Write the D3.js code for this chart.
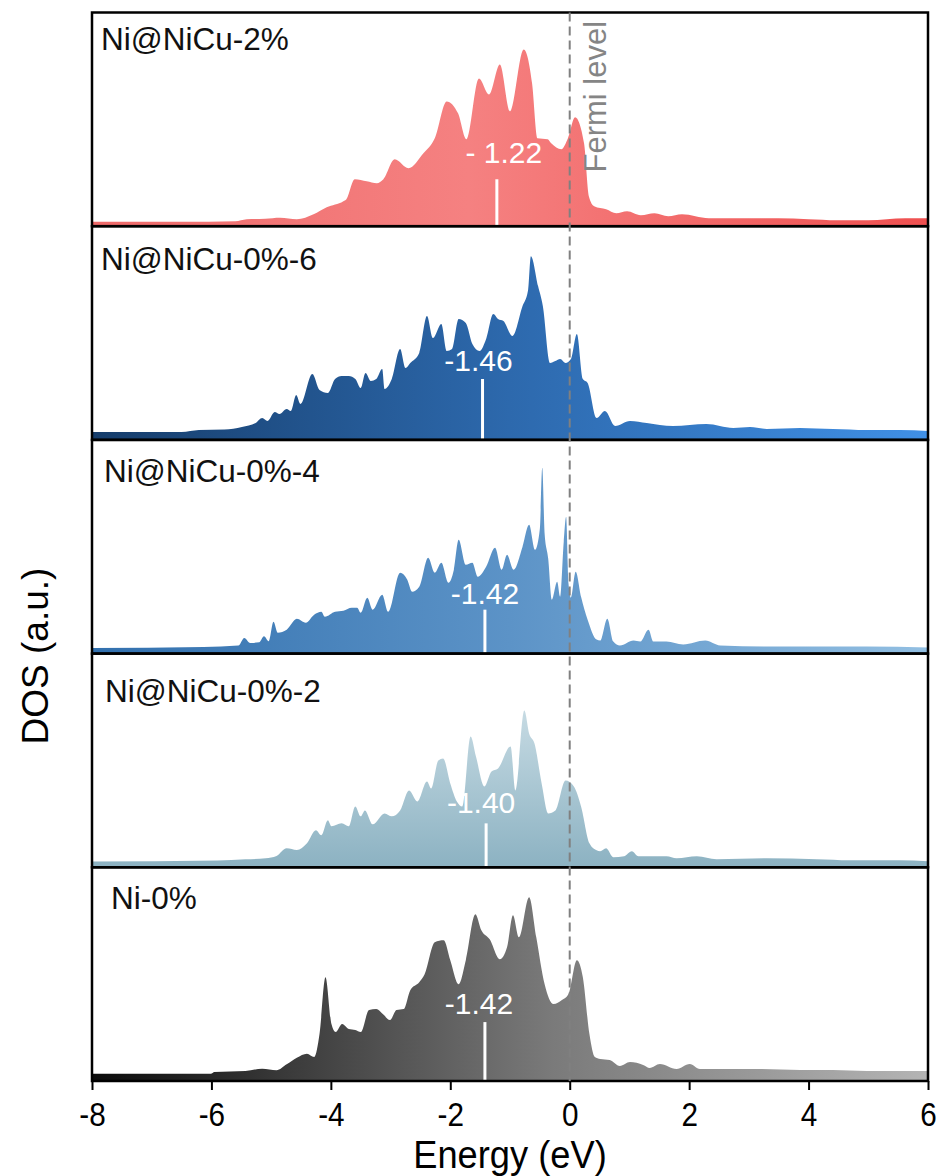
<!DOCTYPE html>
<html>
<head>
<meta charset="utf-8">
<script src="https://cdn.jsdelivr.net/npm/d3@7"></script>
<style>
  body { margin: 0; background: #fff; }
  svg { display: block; font-family: Arial, "Liberation Sans", sans-serif; }
</style>
</head>
<body>
<div id="chart"></div>
<script>
// energy ticks (eV)
const xTicks = [-8, -6, -4, -2, 0, 2, 4, 6];

// panels, top to bottom
const panelNames = ["Ni@NiCu-2%", "Ni@NiCu-0%-6", "Ni@NiCu-0%-4", "Ni@NiCu-0%-2", "Ni-0%"];

// d-band centres (eV) and the text shown for them
const dCenters = [-1.22, -1.46, -1.42, -1.40, -1.42];
const dLabels = ["- 1.22", "-1.46", "-1.42", "-1.40", "-1.42"];

// DOS curves, [energy (eV), DOS (a.u.)]
const dosNi2 = [[-8,4.5],[-6.5,4.5],[-5.6,5],[-5.41,7],[-5.1,7.5],[-4.85,8.5],[-4.57,7],[-4.29,12],[-4.07,19],[-3.79,25],[-3.74,27],[-3.6,47],[-3.4,45],[-3.23,43],[-3.12,47],[-2.93,67],[-2.7,58],[-2.45,73],[-2.26,88],[-2.06,125],[-1.87,113],[-1.73,87],[-1.52,148],[-1.35,132],[-1.17,162],[-1.0,115],[-0.77,177],[-0.63,143],[-0.54,88],[-0.37,87],[-0.31,83],[-0.14,77],[-0.03,88],[0.09,109],[0.24,83],[0.32,30],[0.41,20],[0.61,17],[0.78,13],[0.96,15],[1.19,11],[1.42,13],[1.65,10],[1.88,12],[2.33,8],[2.9,8],[3.49,8],[4.0,7],[4.47,6],[5.0,6],[5.62,8],[6.0,8]];

const dosNi06 = [[-8,8],[-6.5,8],[-6.21,10],[-5.78,10.5],[-5.49,13],[-5.26,17],[-5.15,22],[-5.06,19],[-4.94,28],[-4.86,26],[-4.74,31],[-4.67,29],[-4.58,45],[-4.51,36],[-4.31,66],[-4.19,50],[-4.05,47],[-3.93,61],[-3.82,64],[-3.7,64],[-3.59,61],[-3.5,52],[-3.42,67],[-3.33,59],[-3.24,61],[-3.14,71],[-3.1,51],[-2.98,61],[-2.84,91],[-2.75,72],[-2.67,77],[-2.52,87],[-2.39,124],[-2.29,102],[-2.15,116],[-2.06,89],[-1.97,91],[-1.86,121],[-1.74,117],[-1.63,96],[-1.51,89],[-1.4,101],[-1.28,126],[-1.2,121],[-1.11,119],[-0.96,104],[-0.79,134],[-0.7,149],[-0.65,184],[-0.53,154],[-0.45,134],[-0.33,77],[-0.24,79],[-0.16,81],[-0.07,77],[0.02,81],[0.12,106],[0.22,61],[0.3,57],[0.45,22],[0.59,29],[0.76,14],[1.01,19],[1.29,17],[1.73,14],[2.29,16],[2.74,12],[3.02,13],[3.3,11],[3.86,12],[4.41,11],[4.97,10],[5.53,10],[6.0,9]];

const dosNi04 = [[-8,5.7],[-6.13,6.7],[-5.55,8],[-5.45,15.7],[-5.35,10.7],[-5.2,11.3],[-5.12,17.3],[-5.04,12.3],[-4.96,32],[-4.89,21],[-4.74,24],[-4.57,35],[-4.42,31],[-4.28,39],[-4.16,42],[-4.1,37],[-3.93,42],[-3.79,43],[-3.65,46],[-3.56,46],[-3.5,41],[-3.39,56],[-3.3,44],[-3.14,59],[-3.04,42],[-2.84,81],[-2.72,74],[-2.64,62],[-2.52,67],[-2.37,96],[-2.26,81],[-2.15,91],[-2.03,71],[-1.94,84],[-1.86,114],[-1.74,89],[-1.63,91],[-1.54,77],[-1.4,87],[-1.25,106],[-1.14,84],[-1.05,99],[-0.94,84],[-0.79,107],[-0.68,129],[-0.58,104],[-0.5,125],[-0.46,186],[-0.42,120],[-0.36,95],[-0.3,54],[-0.21,72],[-0.16,57],[-0.1,112],[-0.06,137],[-0.02,70],[0.02,56],[0.1,82],[0.19,57],[0.3,34],[0.45,14],[0.51,13],[0.63,35],[0.73,12],[0.84,8],[1.07,13],[1.18,12],[1.32,24],[1.4,12],[1.62,12],[1.9,9],[2.27,13],[2.52,8],[3.3,7],[4.41,7],[4.97,7],[6.0,6]];

const dosNi02 = [[-8,5.7],[-5.9,6.7],[-5.43,8],[-5.09,9],[-4.91,11.3],[-4.74,19],[-4.57,17.3],[-4.4,24],[-4.25,37],[-4.16,32],[-4.05,47],[-3.99,41],[-3.82,44],[-3.7,41],[-3.59,61],[-3.5,51],[-3.43,57],[-3.3,43],[-3.1,54],[-2.98,51],[-2.84,57],[-2.69,77],[-2.55,66],[-2.39,86],[-2.32,79],[-2.2,107],[-2.12,109],[-2.0,84],[-1.89,66],[-1.8,61],[-1.66,131],[-1.57,111],[-1.43,81],[-1.31,96],[-1.2,99],[-0.99,121],[-0.91,77],[-0.76,157],[-0.68,134],[-0.59,124],[-0.47,84],[-0.36,54],[-0.24,57],[-0.07,87],[0.07,81],[0.19,61],[0.33,24],[0.45,17],[0.51,16],[0.61,19],[0.73,10],[0.91,11],[1.04,16],[1.15,11],[1.35,11],[1.62,11],[1.79,9],[2.13,11],[2.46,8],[3.3,9],[4.14,8],[4.69,7],[5.53,7],[6.0,6]];

const dosNi0 = [[-8,7.3],[-6.01,7.3],[-5.95,9],[-5.43,10],[-5.15,12.3],[-4.91,10.7],[-4.74,16.7],[-4.57,23.3],[-4.4,27.3],[-4.28,24],[-4.19,47],[-4.09,104],[-3.99,57],[-3.92,49],[-3.81,57],[-3.7,52],[-3.59,51],[-3.5,49],[-3.36,71],[-3.24,72],[-3.13,67],[-3.01,61],[-2.9,71],[-2.78,72],[-2.67,91],[-2.52,99],[-2.43,107],[-2.26,139],[-2.11,141],[-2.0,121],[-1.86,97],[-1.74,121],[-1.58,167],[-1.48,151],[-1.34,142],[-1.17,122],[-1.05,134],[-0.95,166],[-0.85,144],[-0.68,184],[-0.56,144],[-0.42,97],[-0.27,77],[-0.13,81],[-0.02,87],[0.12,121],[0.22,104],[0.33,47],[0.42,24],[0.51,22],[0.67,21],[0.84,15],[1.01,19],[1.23,16],[1.34,13],[1.51,17],[1.79,12],[2.01,17],[2.18,12],[2.74,12],[3.13,12],[3.86,11],[4.41,11],[4.97,10],[6.0,10]];

const series = [dosNi2, dosNi06, dosNi04, dosNi02, dosNi0];

// look of each panel
const fills = [
  { dir: "h", stops: [[0, "#ee6a6a"], [0.45, "#f58181"], [1, "#ef5050"]] },
  { dir: "h", stops: [[0, "#163d6b"], [0.5, "#2d69ad"], [1, "#4090e6"]] },
  { dir: "h", stops: [[0, "#3270ae"], [0.5, "#5c93c7"], [1, "#92bfe2"]] },
  { dir: "v", stops: [[0, "#dbe9ef"], [1, "#8cb2c2"]] },
  { dir: "h", stops: [[0, "#0b0b0b"], [0.55, "#7a7a7a"], [1, "#b4b4b4"]] }
];
const nameDx = [9, 9, 12, 13, 19];
const nameDy = [37, 44, 42, 48, 42];
const markTop = [47, 61, 44, 44, 59];
const markText = [63, 69, 50, 54, 67];
const markDx = [7, -4, 0, -5, -6];

const width = 940, height = 1176;
const margin = { top: 12.5, right: 12, bottom: 95, left: 92 };
const plotH = height - margin.top - margin.bottom;
const panelH = plotH / series.length;

const x = d3.scaleLinear()
  .domain([-8, 6])
  .range([margin.left, width - margin.right]);

const svg = d3.select("#chart").append("svg")
  .attr("width", width)
  .attr("height", height);

const defs = svg.append("defs");

series.forEach((data, i) => {
  const top = margin.top + i * panelH;
  const y = d3.scaleLinear()
    .domain([0, 214])
    .range([top + panelH, top]);

  // gradient
  const f = fills[i];
  const grad = defs.append("linearGradient")
    .attr("id", "g" + i)
    .attr("gradientUnits", "userSpaceOnUse")
    .attr("x1", f.dir === "h" ? x.range()[0] : 0)
    .attr("x2", f.dir === "h" ? x.range()[1] : 0)
    .attr("y1", f.dir === "h" ? 0 : top)
    .attr("y2", f.dir === "h" ? 0 : top + panelH);
  grad.selectAll("stop")
    .data(f.stops)
    .join("stop")
      .attr("offset", d => d[0])
      .attr("stop-color", d => d[1]);

  defs.append("clipPath")
    .attr("id", "c" + i)
    .append("rect")
      .attr("x", x.range()[0])
      .attr("y", top)
      .attr("width", x.range()[1] - x.range()[0])
      .attr("height", panelH);

  const g = svg.append("g");

  const area = d3.area()
    .x(d => x(d[0]))
    .y0(y(0))
    .y1(d => y(d[1]))
    .curve(d3.curveMonotoneX);

  g.append("path")
    .datum(data)
    .attr("clip-path", `url(#c${i})`)
    .attr("fill", `url(#g${i})`)
    .attr("d", area);

  // d-band centre marker
  const cx = x(dCenters[i]);
  g.append("line")
    .attr("x1", cx).attr("x2", cx)
    .attr("y1", y(0)).attr("y2", y(markTop[i]))
    .attr("stroke", "#fff")
    .attr("stroke-width", 3);
  g.append("text")
    .attr("x", cx + markDx[i])
    .attr("y", y(markText[i]))
    .attr("text-anchor", "middle")
    .attr("fill", "#fff")
    .attr("font-size", 30)
    .text(dLabels[i]);

  g.append("text")
    .attr("x", margin.left + nameDx[i])
    .attr("y", top + nameDy[i])
    .attr("fill", "#111")
    .attr("font-size", 31.5)
    .text(panelNames[i]);

  g.append("rect")
    .attr("x", x.range()[0])
    .attr("y", top)
    .attr("width", x.range()[1] - x.range()[0])
    .attr("height", panelH)
    .attr("fill", "none")
    .attr("stroke", "#000")
    .attr("stroke-width", 2.5);
});

// Fermi level
svg.append("line")
  .attr("x1", x(0)).attr("x2", x(0))
  .attr("y1", margin.top)
  .attr("y2", margin.top + plotH)
  .attr("stroke", "#808080")
  .attr("stroke-width", 2)
  .attr("stroke-dasharray", "9,5");

svg.append("text")
  .attr("transform", `translate(${x(0) + 36},${margin.top + 160}) rotate(-90)`)
  .attr("fill", "#858585")
  .attr("font-size", 31)
  .text("Fermi level");

// X-axis
const xAxis = svg.append("g")
  .attr("transform", `translate(0,${margin.top + plotH})`)
  .call(d3.axisBottom(x).tickValues(xTicks).tickSize(9).tickPadding(13).tickFormat(d => String(d)));
xAxis.select(".domain").remove();
xAxis.selectAll(".tick line")
  .attr("stroke", "#000")
  .attr("stroke-width", 2);
xAxis.selectAll(".tick text")
  .attr("fill", "#000")
  .attr("font-size", 33)
  .attr("transform", "scale(0.9,1)")
  .attr("font-family", "Arial, 'Liberation Sans', sans-serif");

svg.append("text")
  .attr("transform", `translate(${(x.range()[0] + x.range()[1]) / 2},${height - 8}) scale(0.93,1)`)
  .attr("text-anchor", "middle")
  .attr("font-size", 39)
  .text("Energy (eV)");

// Y label
svg.append("text")
  .attr("transform", `translate(48,656) rotate(-90)`)
  .attr("text-anchor", "middle")
  .attr("font-size", 37)
  .text("DOS (a.u.)");
</script>
</body>
</html>
